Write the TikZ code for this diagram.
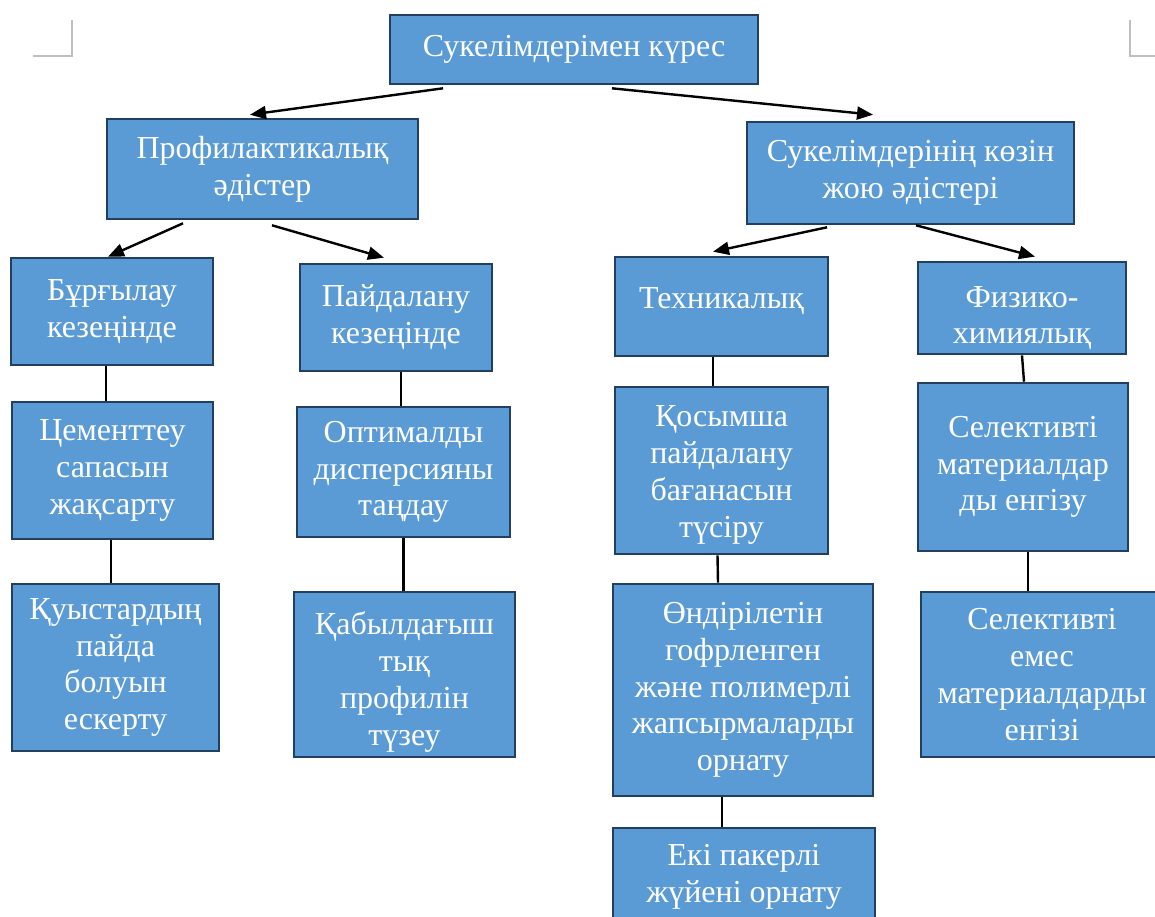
\documentclass[tikz,border=0pt]{standalone}
\usepackage{fontspec}
\setmainfont{Liberation Serif}
\usetikzlibrary{arrows.meta}
\tikzset{>={Triangle[length=8pt,width=6.5pt]}}
\definecolor{boxblue}{HTML}{5B9BD5}
\definecolor{boxline}{HTML}{233F5F}
\definecolor{markgray}{HTML}{BFBFBF}

\begin{document}
\begin{tikzpicture}[x=0.5pt, y=-0.5pt,
    box/.style={draw=boxline, fill=boxblue, text=white, line width=1.3pt,
      align=center, inner sep=2pt, font=\fontsize{16}{18.4}\selectfont},
    arrow/.style={->, line width=1.2pt, black},
    link/.style={line width=1.2pt, black}]
  \useasboundingbox (0,0) rectangle (1155,916);
  \clip (0,0) rectangle (1155,916);
  % page corner marks
  \draw[markgray, line width=0.6pt] (33,56) -- (72,56) -- (72,20);
  \draw[markgray, line width=0.6pt] (1130,20) -- (1130,56) -- (1155,56);
  % top level
  \node[box, minimum width=184pt, minimum height=34.5pt] (top) at (574,49.5) {Сукелімдерімен күрес};
  \node[box, minimum width=155.5pt, minimum height=50pt] (prof) at (262.5,169) {Профилактикалық\\әдістер};
  \node[box, minimum width=163.5pt, minimum height=51pt] (remove) at (910.5,173) {Сукелімдерінің көзін\\жою әдістері};
  % second level
  \node[box, minimum width=101pt, minimum height=53.5pt] (drill) at (112,311.5) {Бұрғылау\\кезеңінде};
  \node[box, minimum width=96pt, minimum height=53.5pt] (use) at (396,317.5) {Пайдалану\\кезеңінде};
  \node[box, minimum width=106.5pt, minimum height=49.5pt, text depth=8pt] (tech) at (721.5,306.5) {Техникалық};
  \node[box, minimum width=104pt, minimum height=45pt, text height=39pt] (phys) at (1022,308) {Физико-\\химиялық};
  % third level
  \node[box, minimum width=100.5pt, minimum height=68.5pt] (cement) at (112.5,470.5) {Цементтеу\\сапасын\\жақсарту};
  \node[box, minimum width=106.5pt, minimum height=65pt] (optim) at (403.5,472) {Оптималды\\дисперсияны\\таңдау};
  \node[box, minimum width=106.5pt, minimum height=83.5pt, text height=70pt] (extra) at (721.5,470.5) {Қосымша\\пайдалану\\бағанасын\\түсіру};
  \node[box, minimum width=105pt, minimum height=84pt] (sel) at (1023,467) {Селективті\\материалдар\\ды енгізу};
  % fourth level
  \node[box, minimum width=103.5pt, minimum height=83.5pt] (cavity) at (115.5,667.5) {Қуыстардың\\пайда\\болуын\\ескерту};
  \node[box, minimum width=110.5pt, minimum height=82.5pt, text height=74pt] (profile) at (404.5,674.5) {Қабылдағыш\\тық\\профилін\\түзеу};
  \node[box, minimum width=130pt, minimum height=106pt] (seal) at (743,690) {Өндірілетін\\гофрленген\\және полимерлі\\жапсырмаларды\\орнату};
  \node[box, minimum width=121pt, minimum height=82.5pt] (nonsel) at (1042,674.5) {Селективті\\емес\\материалдарды\\енгізі};
  % fifth level
  \node[box, minimum width=131pt, minimum height=48.5pt] (packer) at (744,876.5) {Екі пакерлі\\жүйені орнату};
  % arrows
  \draw[arrow] ([xshift=-65.5pt,yshift=-1.5pt]top.south) -- ([xshift=-6.25pt,yshift=1.5pt]prof.north);
  \draw[arrow] ([xshift=19pt,yshift=-1.5pt]top.south) -- ([xshift=-18.75pt,yshift=3pt]remove.north);
  \draw[arrow] ([xshift=-39.75pt,yshift=-1.5pt]prof.south) -- ([xshift=-2pt]drill.north);
  \draw[arrow] ([xshift=4.75pt,yshift=-2.5pt]prof.south) -- ([xshift=-6pt,yshift=2.5pt]use.north);
  \draw[arrow] ([xshift=-41.75pt,yshift=-1pt]remove.south) -- ([xshift=-4.25pt,yshift=2pt]tech.north);
  \draw[arrow] ([xshift=2.75pt]remove.south) -- ([xshift=6.5pt,yshift=2pt]phys.north);
  % plain links
  \draw[link] ([xshift=-3pt]drill.south) -- ([xshift=-3pt]drill.south |- cement.north);
  \draw[link] ([xshift=-0.75pt]cement.south) -- ([xshift=-0.75pt]cement.south |- cavity.north);
  \draw[link] ([xshift=2.5pt]use.south) -- ([xshift=2.5pt]use.south |- optim.north);
  \draw[link] (optim.south) -- (optim.south |- profile.north);
  \draw[link] ([xshift=-4.25pt]tech.south) -- ([xshift=-4.25pt]tech.south |- extra.north);
  \draw[link] ([xshift=-2pt]extra.south) -- ([xshift=-1.75pt]seal.north -| extra.south);
  \draw[link] ([xshift=-10.5pt]seal.south) -- ([xshift=-10.5pt]seal.south |- packer.north);
  \draw[link] (phys.south) -- ([xshift=1pt]phys.south |- sel.north);
  \draw[link] ([xshift=2.5pt]sel.south) -- ([xshift=2.5pt]sel.south |- nonsel.north);
\end{tikzpicture}
\end{document}
